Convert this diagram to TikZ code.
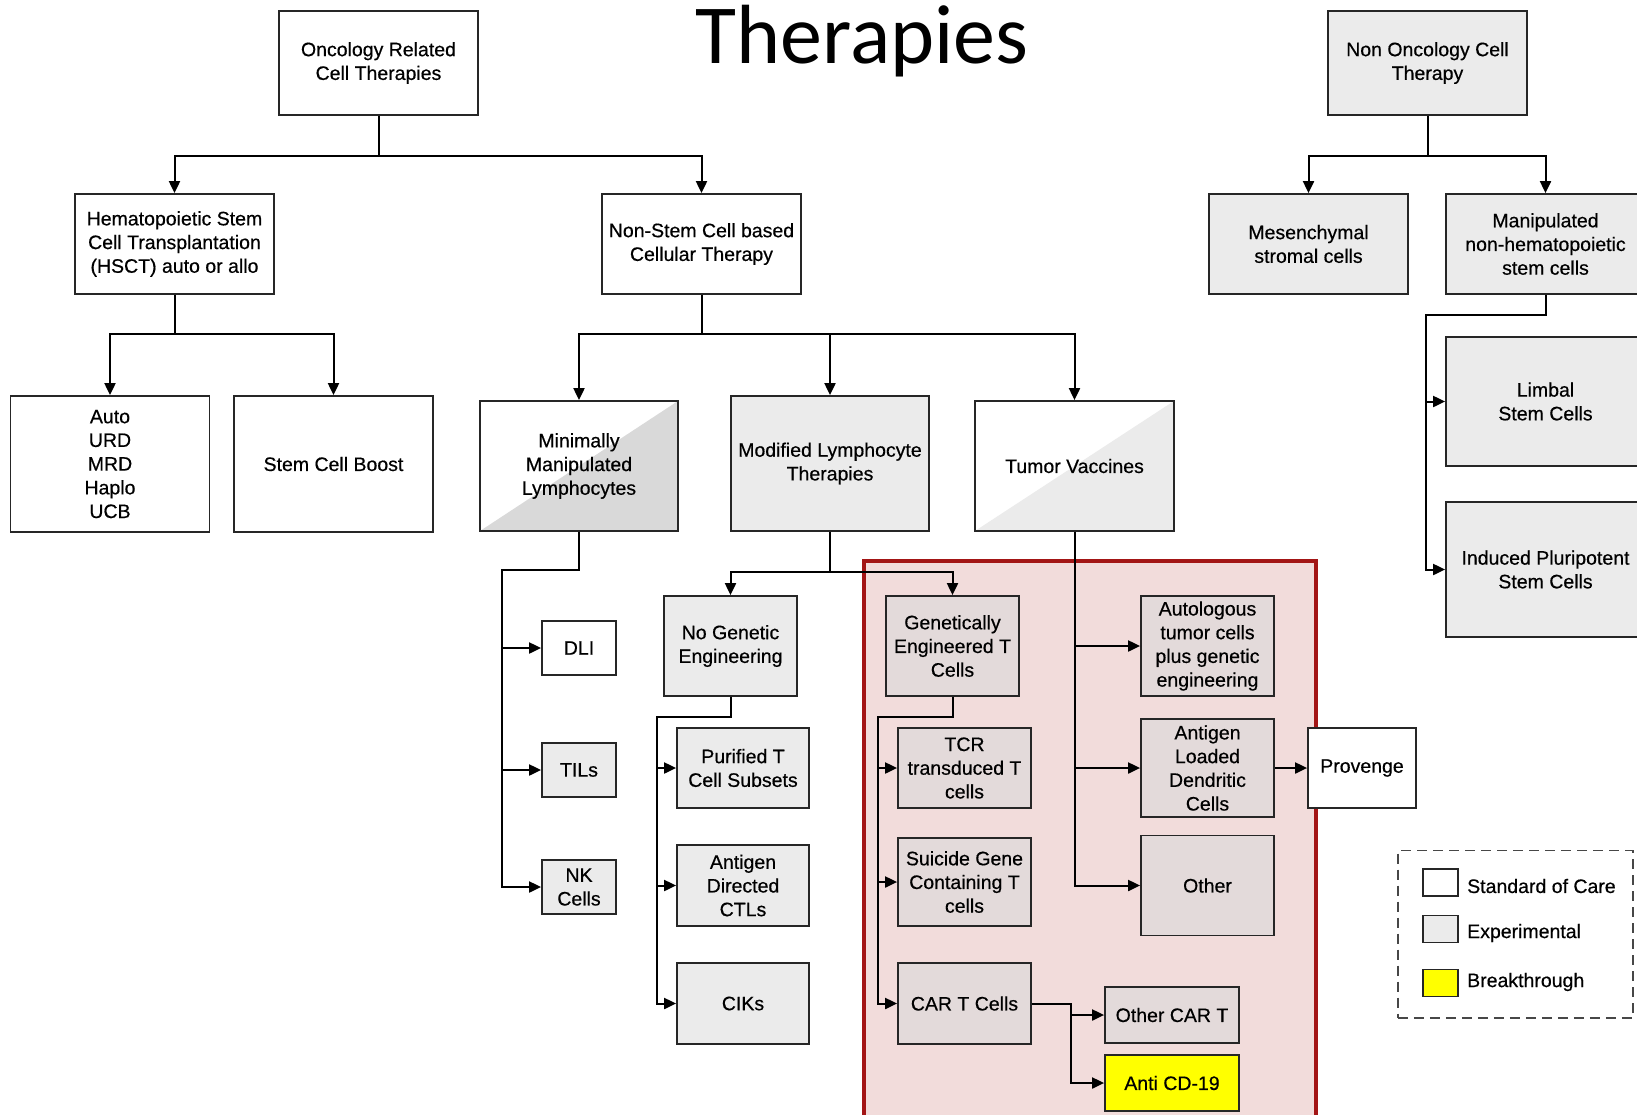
\documentclass[tikz,border=0pt]{standalone}
\usepackage{fontspec}
\setmainfont{Liberation Sans}[FakeBold=0.5]
\newfontfamily\titlefont{Carlito}
\usetikzlibrary{arrows.meta}
\definecolor{expgray}{HTML}{EBEBEB}
\definecolor{mingray}{HTML}{D9D9D9}
\definecolor{pinkbg}{HTML}{F2DCDB}
\definecolor{pinkbox}{HTML}{E3DADA}
\definecolor{redline}{HTML}{A31515}
\definecolor{edgecol}{HTML}{262626}
\definecolor{brkyellow}{HTML}{FFFF00}
\begin{document}
\begin{tikzpicture}[x=1pt,y=-1pt,
  box/.style={draw=edgecol, line width=1.8pt, align=center, inner sep=1pt,
    font=\fontsize{19.5}{23.7}\selectfont, text=black},
  soc/.style={box, fill=white},
  expt/.style={box, fill=expgray},
  pbox/.style={box, fill=pinkbox},
  brk/.style={box, fill=brkyellow},
  diag/.style={box, fill=white, path picture={\fill[#1] (path picture bounding box.south west) -- (path picture bounding box.north east) -- (path picture bounding box.south east) -- cycle;}},
  conn/.style={line width=2pt, draw=black},
  arr/.style={conn, -{Triangle[length=12pt,width=11pt]}},
  legtext/.style={anchor=west, inner sep=1pt, font=\fontsize{19.5}{23.7}\selectfont},
]
\useasboundingbox (0,0) rectangle (1637,1114);
\fill[white] (0,0) rectangle (1637,1114);

% highlighted group
\node[draw=redline, fill=pinkbg, line width=3.5pt, minimum width=451.6pt, minimum height=580pt,
  anchor=north west, inner sep=0pt] (grp) at (862.4,559) {};

% title
\node[font=\titlefont\fontsize{84}{84}\selectfont, anchor=base, inner sep=0pt] (title) at (862,63.6) {Therapies};

% top level
\node[soc, minimum width=199pt, minimum height=104pt] (onc) at (378.5,63) {Oncology Related\\Cell Therapies};
\node[expt, minimum width=199pt, minimum height=104pt] (nononc) at (1427.5,63) {Non Oncology Cell\\Therapy};

% second level
\node[soc, minimum width=199pt, minimum height=100pt] (hsct) at (174.5,244) {Hematopoietic Stem\\Cell Transplantation\\(HSCT) auto or allo};
\node[soc, minimum width=199pt, minimum height=100pt] (nonstem) at (701.5,244) {Non-Stem Cell based\\Cellular Therapy};
\node[expt, minimum width=199pt, minimum height=100pt] (mesen) at (1308.5,244) {Mesenchymal\\stromal cells};
\node[expt, minimum width=199pt, minimum height=100pt] (manip) at (1545.5,244) {Manipulated\\non-hematopoietic\\stem cells};

% third level
\node[soc, minimum width=199pt, minimum height=136pt] (auto) at (110,464) {Auto\\URD\\MRD\\Haplo\\UCB};
\node[soc, minimum width=199pt, minimum height=136pt] (boost) at (333.5,464) {Stem Cell Boost};
\node[diag=mingray, minimum width=198pt, minimum height=130pt] (minimal) at (579,466) {Minimally\\Manipulated\\Lymphocytes};
\node[expt, minimum width=198pt, minimum height=135pt] (modified) at (830,463.5) {Modified Lymphocyte\\Therapies};
\node[diag=expgray, minimum width=199pt, minimum height=130pt] (tumor) at (1074.5,466) {Tumor Vaccines};
\node[expt, minimum width=199pt, minimum height=129pt] (limbal) at (1545.5,401.5) {Limbal\\Stem Cells};
\node[expt, minimum width=199pt, minimum height=135pt] (induced) at (1545.5,569.5) {Induced Pluripotent\\Stem Cells};

% minimally manipulated children
\node[soc, minimum width=74pt, minimum height=54pt] (dli) at (579,648) {DLI};
\node[expt, minimum width=74pt, minimum height=54pt] (tils) at (579,770) {TILs};
\node[expt, minimum width=74pt, minimum height=54pt] (nk) at (579,887) {NK\\Cells};

% modified lymphocyte children
\node[expt, minimum width=133pt, minimum height=100pt] (nogen) at (730.5,646) {No Genetic\\Engineering};
\node[pbox, minimum width=133pt, minimum height=100pt] (genet) at (952.5,646) {Genetically\\Engineered T\\Cells};

\node[expt, minimum width=132pt, minimum height=80pt] (purified) at (743,768) {Purified T\\Cell Subsets};
\node[expt, minimum width=132pt, minimum height=81pt] (antdir) at (743,885.5) {Antigen\\Directed\\CTLs};
\node[expt, minimum width=132pt, minimum height=81pt] (ciks) at (743,1003.5) {CIKs};

\node[pbox, minimum width=133pt, minimum height=80pt] (tcr) at (964.5,768) {TCR\\transduced T\\cells};
\node[pbox, minimum width=133pt, minimum height=88pt] (suicide) at (964.5,882) {Suicide Gene\\Containing T\\cells};
\node[pbox, minimum width=133pt, minimum height=81pt] (cart) at (964.5,1003.5) {CAR T Cells};

% tumor vaccine children
\node[pbox, minimum width=133pt, minimum height=100pt] (autol) at (1207.5,646) {Autologous\\tumor cells\\plus genetic\\engineering};
\node[pbox, minimum width=133pt, minimum height=98.5pt] (antload) at (1207.5,768) {Antigen\\Loaded\\Dendritic\\Cells};
\node[pbox, minimum width=133pt, minimum height=100pt] (other) at (1207.5,885.5) {Other};
\node[soc, minimum width=108pt, minimum height=80pt] (provenge) at (1362,768) {Provenge};

% CAR T children
\node[pbox, minimum width=134pt, minimum height=56pt] (othercar) at (1172,1015) {Other CAR T};
\node[brk, minimum width=134pt, minimum height=56pt] (anticd) at (1172,1083) {Anti CD-19};

% spine coordinates
\coordinate (mv) at (1425.5,0);
\coordinate (lv) at (502,0);
\coordinate (nv) at (656.7,0);
\coordinate (gv) at (878,0);
\coordinate (cv) at (1070.7,0);

% connectors
\draw[arr] (onc.south) -- ++(0,40) -| (hsct.north);
\draw[arr] (onc.south) -- ++(0,40) -| (nonstem.north);
\draw[arr] (nononc.south) -- ++(0,40) -| (mesen.north);
\draw[arr] (nononc.south) -- ++(0,40) -| (manip.north);

\draw[arr] (hsct.south) -- ++(0,39) -| (auto.north);
\draw[arr] (hsct.south) -- ++(0,39) -| (boost.north);

\draw[arr] (nonstem.south) -- ++(0,39) -| (minimal.north);
\draw[arr] (nonstem.south) -- ++(0,39) -| (modified.north);
\draw[arr] (nonstem.south) -- ++(0,39) -| (tumor.north);

\draw[arr] (manip.south) -- ++(0,19.6) -| (mv |- limbal.west) -- (limbal.west);
\draw[arr] (manip.south) -- ++(0,19.6) -| (mv |- induced.west) -- (induced.west);

\draw[arr] (minimal.south) -- ++(0,38) -| (lv |- dli.west) -- (dli.west);
\draw[arr] (minimal.south) -- ++(0,38) -| (lv |- tils.west) -- (tils.west);
\draw[arr] (minimal.south) -- ++(0,38) -| (lv |- nk.west) -- (nk.west);

\draw[arr] (modified.south) -- ++(0,40) -| (nogen.north);
\draw[arr] (modified.south) -- ++(0,40) -| (genet.north);

\draw[arr] (nogen.south) -- ++(0,20) -| (nv |- purified.west) -- (purified.west);
\draw[arr] (nogen.south) -- ++(0,20) -| (nv |- antdir.west) -- (antdir.west);
\draw[arr] (nogen.south) -- ++(0,20) -| (nv |- ciks.west) -- (ciks.west);

\draw[arr] (genet.south) -- ++(0,20) -| (gv |- tcr.west) -- (tcr.west);
\draw[arr] (genet.south) -- ++(0,20) -| (gv |- suicide.west) -- (suicide.west);
\draw[arr] (genet.south) -- ++(0,20) -| (gv |- cart.west) -- (cart.west);

\draw[arr] (tumor.south) |- (autol.west);
\draw[arr] (tumor.south) |- (antload.west);
\draw[arr] (tumor.south) |- (other.west);

\draw[arr] (antload.east) -- (provenge.west);

\draw[arr] (cart.east) -| (cv |- othercar.west) -- (othercar.west);
\draw[arr] (cart.east) -| (cv |- anticd.west) -- (anticd.west);

% legend
\node[draw=edgecol!85, line width=1.8pt, dash pattern=on 10pt off 6pt, minimum width=234.7pt,
  minimum height=167.5pt, anchor=north west, inner sep=0pt] (legend) at (1397,849.5) {};
\node[soc, minimum width=35pt, minimum height=27pt, inner sep=0pt] (lg1) at (1440.5,882.5) {};
\node[expt, minimum width=35pt, minimum height=27pt, inner sep=0pt] (lg2) at (1440.5,929) {};
\node[brk, minimum width=35pt, minimum height=27pt, inner sep=0pt] (lg3) at (1440.5,983) {};
\node[legtext] (lt1) at (1466,886) {Standard of Care};
\node[legtext] (lt2) at (1466,933) {Experimental};
\node[legtext] (lt3) at (1466,982) {Breakthrough};
\end{tikzpicture}
\end{document}
